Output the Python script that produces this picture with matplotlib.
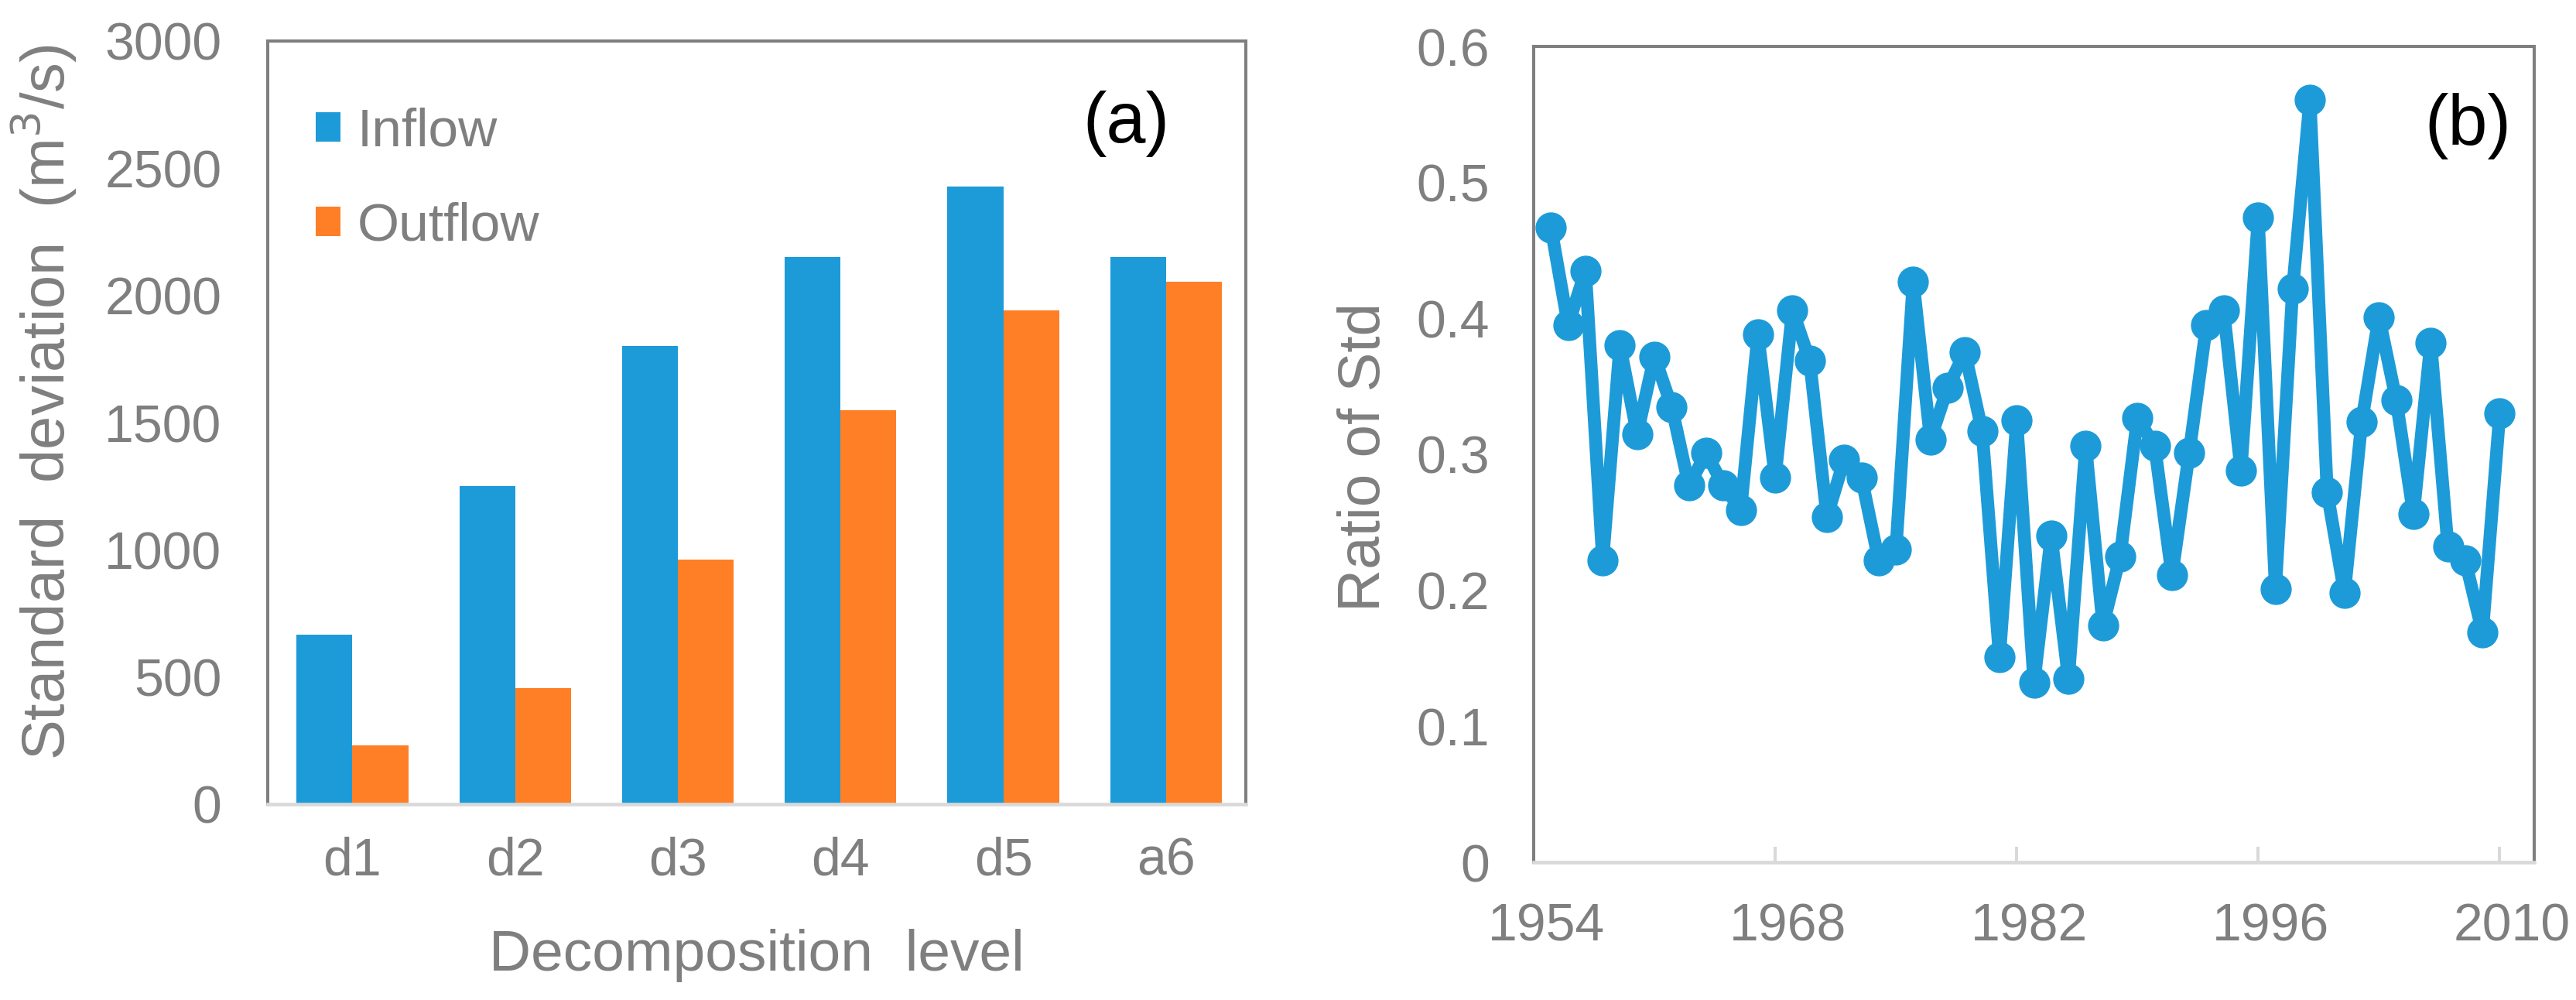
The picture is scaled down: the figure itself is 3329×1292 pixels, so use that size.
import matplotlib
matplotlib.use("Agg")
import matplotlib.pyplot as plt
from matplotlib.transforms import ScaledTranslation
import numpy as np

plt.rcParams['font.family'] = ['Liberation Sans', 'DejaVu Sans']

# ---- data ----
levels = ["d1", "d2", "d3", "d4", "d5", "a6"]
inflow = [666, 1251, 1800, 2151, 2429, 2151]
outflow = [231, 456, 961, 1548, 1940, 2054]

years = list(range(1955, 2011))
ratio = [0.467, 0.395, 0.435, 0.222, 0.380, 0.315, 0.372, 0.335, 0.277, 0.301,
         0.277, 0.259, 0.388, 0.283, 0.406, 0.369, 0.254, 0.296, 0.283, 0.222,
         0.230, 0.427, 0.311, 0.349, 0.375, 0.317, 0.151, 0.325, 0.132, 0.240,
         0.135, 0.306, 0.174, 0.225, 0.327, 0.306, 0.211, 0.301, 0.395, 0.406,
         0.288, 0.474, 0.201, 0.422, 0.561, 0.272, 0.198, 0.324, 0.401, 0.340,
         0.256, 0.382, 0.232, 0.222, 0.169, 0.330]
year_ticks = [1954, 1968, 1982, 1996, 2010]
ratio_ticks = [0, 0.1, 0.2, 0.3, 0.4, 0.5, 0.6]
std_ticks = [0, 500, 1000, 1500, 2000, 2500, 3000]

BLUE = "#1D9BD8"
ORANGE = "#FF7F27"
GRAY = "#7F7F7F"
LIGHT = "#D9D9D9"

W, H = 3330, 1292
DPI = 100
fig = plt.figure(figsize=(W / DPI, H / DPI), dpi=DPI)

TICK_FS = 49
LABEL_FS = 55


def style_frame(ax):
    for s in ("left", "top", "right"):
        ax.spines[s].set_color(GRAY)
        ax.spines[s].set_linewidth(2.9)
    ax.spines["bottom"].set_color(LIGHT)
    ax.spines["bottom"].set_linewidth(3.3)


# ---- panel (a) ----
axa = fig.add_axes([346 / W, (H - 1039) / H, (1610 - 346) / W, (1039 - 53) / H])
x = np.arange(len(levels))
bw = 0.343
axa.bar(x - bw / 2, inflow, width=bw, color=BLUE, label="Inflow", zorder=2)
axa.bar(x + bw / 2, outflow, width=bw, color=ORANGE, label="Outflow", zorder=2)
axa.set_xlim(-0.52, 5.49)
axa.set_ylim(0, 3000)
axa.set_yticks(std_ticks)
axa.set_xticks(x)
axa.set_xticklabels(levels)
axa.tick_params(axis="both", length=0, labelsize=TICK_FS, labelcolor=GRAY)
axa.tick_params(axis="y", pad=43)
axa.tick_params(axis="x", pad=30)
style_frame(axa)
axa.text(-0.229, 0.527, "Standard  deviation  (m$^3$/s)", transform=axa.transAxes,
         rotation=90, ha="center", va="center", fontsize=56, color=GRAY)
axa.text(0.5, -0.218, "Decomposition  level", transform=axa.transAxes,
         ha="center", va="baseline", fontsize=54, color=GRAY)
axa.text(0.878, 0.891, "(a)", transform=axa.transAxes, ha="center", va="center",
         fontsize=66, color="black")
leg = axa.legend(loc="upper left", bbox_to_anchor=(0.049, 0.913), frameon=False,
                 fontsize=50, borderpad=0, borderaxespad=0, handlelength=0.46,
                 handleheight=0.46, handletextpad=0.32, labelspacing=0.83)
for t in leg.get_texts():
    t.set_color(GRAY)

# ---- panel (b) ----
axb = fig.add_axes([1982 / W, (H - 1114) / H, 1293 / W, 1054 / H])
axb.plot(years, ratio, color=BLUE, linewidth=12, marker="o", markersize=28,
         markerfacecolor=BLUE, markeredgecolor=BLUE, zorder=3, clip_on=False,
         solid_joinstyle="round", solid_capstyle="round")
axb.set_xlim(1954, 2012)
axb.set_ylim(0, 0.6)
axb.set_xticks(year_ticks)
axb.set_yticks(ratio_ticks)
axb.set_yticklabels(["0", "0.1", "0.2", "0.3", "0.4", "0.5", "0.6"])
axb.tick_params(axis="y", length=0, labelsize=TICK_FS, labelcolor=GRAY, pad=41)
axb.tick_params(axis="x", direction="in", length=14.4, width=2.9, color=LIGHT,
                labelsize=TICK_FS, labelcolor=GRAY, pad=37)
style_frame(axb)
off = ScaledTranslation(16 / DPI, 0, fig.dpi_scale_trans)
for lab in axb.get_xticklabels():
    lab.set_transform(lab.get_transform() + off)
axb.text(-0.169, 0.497, "Ratio of Std", transform=axb.transAxes, rotation=90,
         ha="center", va="center", fontsize=LABEL_FS, color=GRAY)
axb.text(0.934, 0.902, "(b)", transform=axb.transAxes, ha="center", va="center",
         fontsize=66, color="black")

fig.savefig("out.png", dpi=DPI, facecolor="white")
